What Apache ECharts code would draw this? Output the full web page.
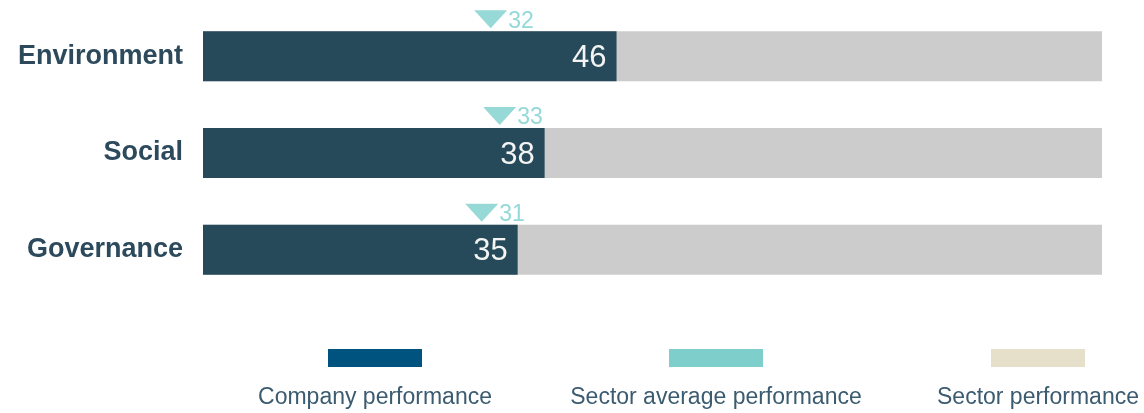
<!DOCTYPE html>
<html>
<head>
<meta charset="utf-8">
<script src="https://cdn.jsdelivr.net/npm/echarts@6/dist/echarts.min.js"></script>
<style>
html,body{margin:0;padding:0;background:#fff;}
#chart{width:1144px;height:413px;}
</style>
</head>
<body>
<div id="chart"></div>
<script>
const categories = ['Environment', 'Social', 'Governance'];
const companyScores = [46, 38, 35];
const sectorAverage = [32, 33, 31];
const sectorMax = [100, 100, 100];
const legendNames = ['Company performance', 'Sector average performance', 'Sector performance'];

const FONT = '"Liberation Sans", Arial, sans-serif';
const C_BAR = '#264a5a';
const C_BG = '#cccccc';
const C_AVG = '#7ccfcc';
const legendColors = ['#00527f', '#7ecfcc', '#e6e0cb'];
const legendCenters = [375, 716, 1038];

const chart = echarts.init(document.getElementById('chart'), null, {renderer: 'canvas'});

const graphics = [];
legendNames.forEach((n, i) => {
  graphics.push({
    type: 'rect', left: legendCenters[i] - 47, top: 349,
    shape: {width: 94, height: 18}, style: {fill: legendColors[i]}
  });
  graphics.push({
    type: 'text', x: legendCenters[i], y: 398,
    style: {text: n, fill: '#3b5b70', font: '23px ' + FONT, textAlign: 'center', textVerticalAlign: 'middle'}
  });
});

chart.setOption({
  animation: false,
  grid: {left: 203, right: 42, top: 8, bottom: 115, containLabel: false},
  xAxis: {type: 'value', min: 0, max: 100, show: false},
  yAxis: {
    type: 'category', data: categories, inverse: true,
    axisLine: {show: false}, axisTick: {show: false},
    axisLabel: {color: '#2c4a5c', fontSize: 27, fontWeight: 'bold', fontFamily: FONT, margin: 20,
      padding: [8, 0, 0, 0]}
  },
  series: [
    {
      type: 'bar', data: sectorMax, barWidth: 50, barGap: '-100%',
      itemStyle: {color: C_BG}, silent: true, z: 1
    },
    {
      type: 'bar', data: companyScores, barWidth: 50, barGap: '-100%',
      itemStyle: {color: C_BAR}, z: 2,
      label: {show: true, position: 'insideRight', distance: 10, color: '#f4f4f4', fontSize: 31, fontFamily: FONT,
        offset: [0, 2]}
    },
    {
      type: 'scatter', data: sectorAverage.map((v, i) => [v, categories[i]]),
      symbol: 'triangle', symbolRotate: 180, symbolSize: [33, 18], symbolOffset: [0, -37],
      itemStyle: {color: C_AVG}, z: 5,
      label: {show: true, position: 'right', distance: 1, color: '#78d0cd', fontSize: 23, fontFamily: FONT,
        offset: [0, 2], formatter: p => p.value[0]}
    }
  ],
  graphic: graphics
});
</script>
</body>
</html>
